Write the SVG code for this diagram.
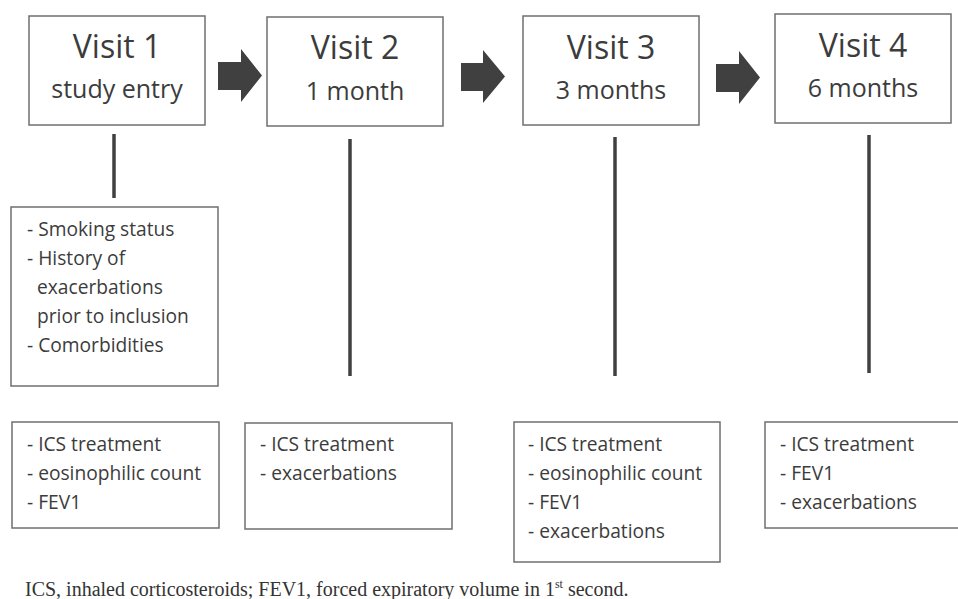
<svg xmlns="http://www.w3.org/2000/svg" width="958" height="599" viewBox="0 0 958 599">
<style>
.box{fill:#fff;stroke:#6f6f6f;stroke-width:1.5}
.t{font-family:"Open Sans","Liberation Sans",sans-serif;fill:#3c3c3c}
.title{font-size:32px;text-anchor:middle}
.sub{font-size:25px;text-anchor:middle}
.item{font-size:19.2px}
.arrow{fill:#404040}
.vl{stroke:#404040;stroke-width:3.5}
.foot{font-family:"Liberation Serif","Times New Roman",serif;font-size:20px;fill:#333}
</style>
<rect width="958" height="599" fill="#fff"/>
<g id="visit1">
<rect class="box" x="29" y="16" width="176" height="109"/>
<text class="t title" x="117" y="58">Visit 1</text>
<text class="t sub" x="117" y="98">study entry</text>
</g>
<g id="visit2">
<rect class="box" x="267" y="17" width="176" height="109"/>
<text class="t title" x="355" y="59">Visit 2</text>
<text class="t sub" x="355" y="100">1 month</text>
</g>
<g id="visit3">
<rect class="box" x="523" y="16" width="176" height="109"/>
<text class="t title" x="611" y="59">Visit 3</text>
<text class="t sub" x="611" y="99">3 months</text>
</g>
<g id="visit4">
<rect class="box" x="775" y="14" width="176" height="109"/>
<text class="t title" x="863" y="57">Visit 4</text>
<text class="t sub" x="863" y="97">6 months</text>
</g>
<g id="baseline-info">
<rect class="box" x="11" y="207" width="207" height="179"/>
<text class="t item"><tspan x="27" y="236">- Smoking status</tspan><tspan x="27" y="265">- History of</tspan><tspan x="37" y="294">exacerbations</tspan><tspan x="37" y="323">prior to inclusion</tspan><tspan x="27" y="352">- Comorbidities</tspan></text>
</g>
<g id="data1">
<rect class="box" x="12" y="422" width="207" height="106"/>
<text class="t item"><tspan x="27" y="451">- ICS treatment</tspan><tspan x="27" y="480">- eosinophilic count</tspan><tspan x="27" y="509">- FEV1</tspan></text>
</g>
<g id="data2">
<rect class="box" x="245" y="423" width="207" height="106"/>
<text class="t item"><tspan x="260" y="451">- ICS treatment</tspan><tspan x="260" y="480">- exacerbations</tspan></text>
</g>
<g id="data3">
<rect class="box" x="514" y="422" width="206" height="140"/>
<text class="t item"><tspan x="528" y="451">- ICS treatment</tspan><tspan x="528" y="480">- eosinophilic count</tspan><tspan x="528" y="509">- FEV1</tspan><tspan x="528" y="538">- exacerbations</tspan></text>
</g>
<g id="data4">
<rect class="box" x="765" y="422" width="200" height="106"/>
<text class="t item"><tspan x="780" y="451">- ICS treatment</tspan><tspan x="780" y="480">- FEV1</tspan><tspan x="780" y="509">- exacerbations</tspan></text>
</g>
<g id="connectors">
<polygon class="arrow" points="218,62 241,62 241,49 262,75.5 241,102 241,90 218,90"/>
<polygon class="arrow" points="461,63 483,63 483,50 505,76.5 483,103 483,91 461,91"/>
<polygon class="arrow" points="716,64 739,64 739,51 760,77.5 739,104 739,92 716,92"/>
<line class="vl" x1="114" y1="134" x2="114" y2="198"/>
<line class="vl" x1="350" y1="139" x2="350" y2="376"/>
<line class="vl" x1="615" y1="137" x2="615" y2="376"/>
<line class="vl" x1="869" y1="135" x2="869" y2="373"/>
</g>
<text class="foot" x="25" y="596">ICS, inhaled corticosteroids; FEV1, forced expiratory volume in 1<tspan font-size="12" dy="-8">st</tspan><tspan dy="8"> second.</tspan></text>
</svg>
